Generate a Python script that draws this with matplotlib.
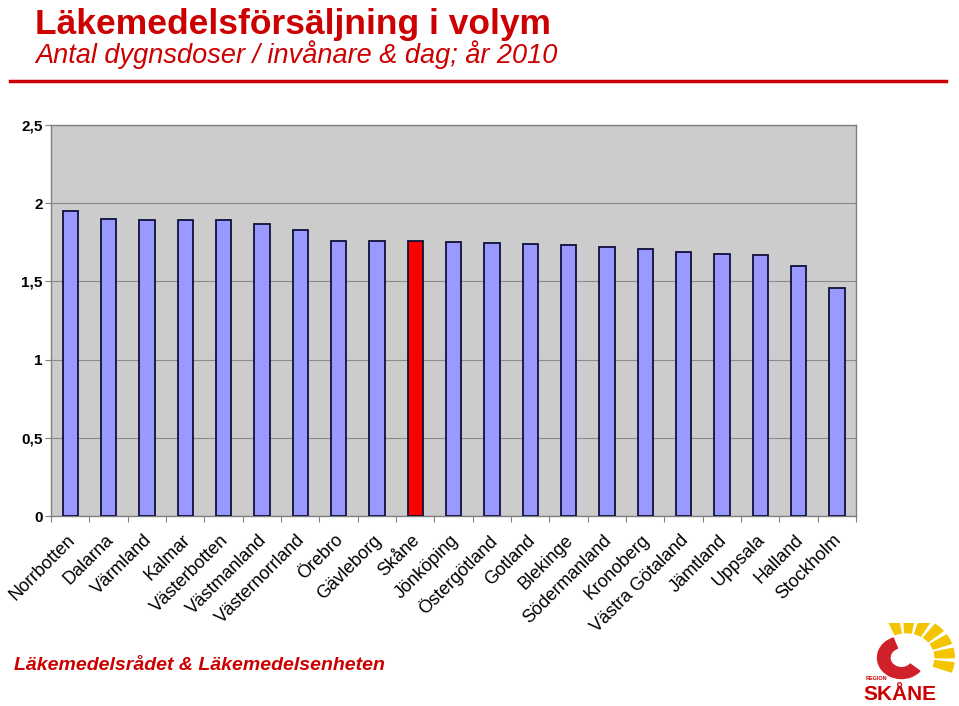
import matplotlib.pyplot as plt
from matplotlib.patches import Wedge
import numpy as np

plt.rcParams['font.family'] = ['Liberation Sans', 'DejaVu Sans']

# data
regions = ["Norrbotten", "Dalarna", "Värmland", "Kalmar", "Västerbotten",
           "Västmanland", "Västernorrland", "Örebro", "Gävleborg", "Skåne",
           "Jönköping", "Östergötland", "Gotland", "Blekinge", "Södermanland",
           "Kronoberg", "Västra Götaland", "Jämtland", "Uppsala", "Halland",
           "Stockholm"]
ddd = [1.95, 1.90, 1.89, 1.89, 1.89, 1.87, 1.83, 1.76, 1.76, 1.76,
       1.75, 1.745, 1.74, 1.73, 1.72, 1.71, 1.69, 1.675, 1.67, 1.60, 1.46]
highlight = "Skåne"
yticks = [0, 0.5, 1, 1.5, 2, 2.5]
ytick_labels = ["0", "0,5", "1", "1,5", "2", "2,5"]

red = "#cc0000"
fig = plt.figure(figsize=(9.59, 7.06), dpi=100)
ax = fig.add_axes([0.0532, 0.2691, 0.8394, 0.5538])

colors = ["#ff0000" if r == highlight else "#9999ff" for r in regions]
x = np.arange(len(regions))
ax.bar(x, ddd, width=0.4, color=colors, edgecolor="#10103a", linewidth=1.3, zorder=3)

ax.set_facecolor("#cccccc")
ax.set_xlim(-0.5, len(regions) - 0.5)
ax.set_ylim(0, 2.5)
ax.set_yticks(yticks)
ax.set_yticklabels(ytick_labels, fontsize=11, fontweight="bold")
ax.yaxis.grid(True, color="#8a8a8a", linewidth=0.8, zorder=0)
ax.tick_params(axis="y", length=4, color="#808080", pad=2)

# ticks between categories, labels at bar centres
ax.set_xticks(np.arange(len(regions) + 1) - 0.5)
ax.set_xticklabels([])
ax.tick_params(axis="x", length=4, color="#808080")
for i, r in enumerate(regions):
    ax.text(i - 0.1, -0.1, r, rotation=45, ha="right", va="top",
            rotation_mode="anchor", fontsize=13, transform=ax.transData)
for s in ax.spines.values():
    s.set_color("#808080")
    s.set_linewidth(1)

# header
fig.text(0.037, 0.952, "Läkemedelsförsäljning i volym", color=red,
         fontsize=25.5, fontweight="bold", va="baseline")
fig.text(0.037, 0.911, "Antal dygnsdoser / invånare & dag; år 2010", color=red,
         fontsize=19.5, fontstyle="italic", va="baseline")
fig.add_artist(plt.Line2D([0.010, 0.986], [0.885, 0.885], color=red, linewidth=2.5))

# footer
fig.text(0.015, 0.057, "Läkemedelsrådet & Läkemedelsenheten", color=red,
         fontsize=14, fontstyle="italic", fontweight="bold", va="center")

# rough Region Skåne logo
lax = fig.add_axes([0.900, 0.0, 0.1, 0.118])
lax.set_xlim(0, 1)
lax.set_ylim(0, 1)
lax.axis("off")
for a in range(-20, 110, 20):
    lax.add_patch(Wedge((0.45, 0.58), 0.5, a, a + 13, width=0.2, color="#f5c400"))
lax.add_patch(Wedge((0.40, 0.58), 0.25, 110, 320, width=0.13, color="#d0202a"))
lax.text(0.03, 0.31, "REGION", fontsize=4, color=red, fontweight="bold")
lax.text(0.0, 0.03, "SKÅNE", fontsize=15, color=red, fontweight="bold", va="bottom")

plt.savefig("out.png", dpi=100)
